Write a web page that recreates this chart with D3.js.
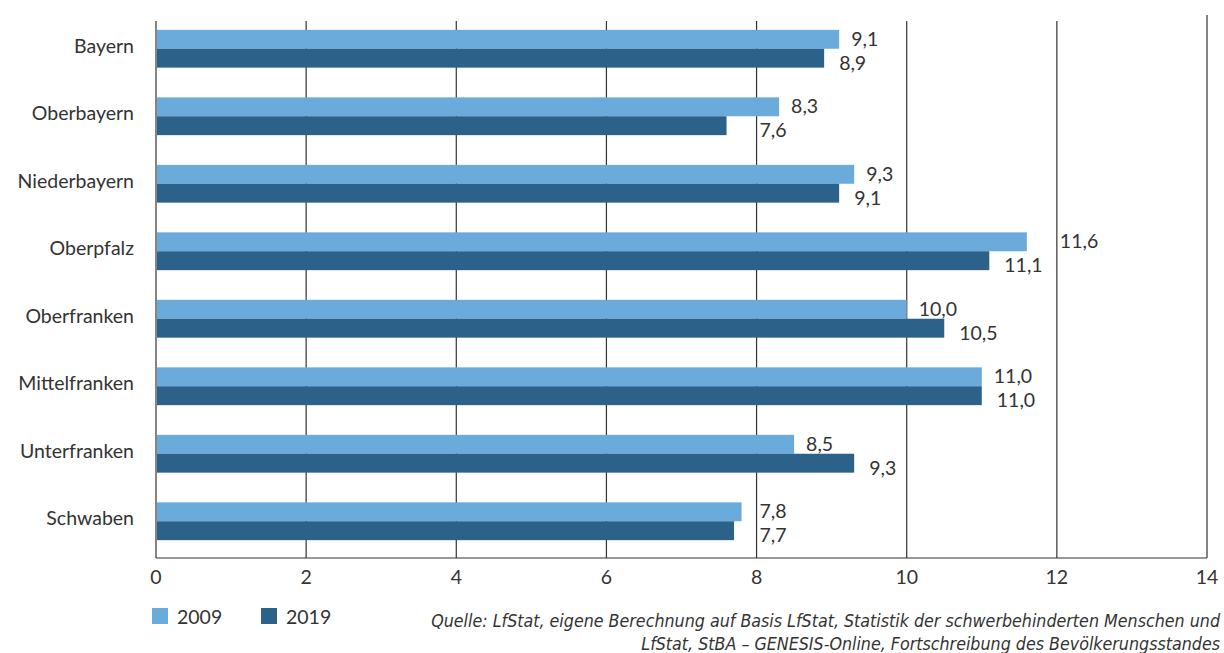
<!DOCTYPE html>
<html lang="de">
<head>
  <meta charset="UTF-8">
  <title>Regierungsbezirke 2009 / 2019</title>
  <script src="https://d3js.org/d3.v7.min.js"></script>
  <style>
    body {
      margin: 0;
      background: #fff;
      font-family: Lato, "Open Sans", sans-serif;
      color: #333;
    }
    #chart svg { display: block; }
  </style>
</head>
<body>
  <div id="chart"></div>

  <script>
    const regions = ["Bayern", "Oberbayern", "Niederbayern", "Oberpfalz",
                     "Oberfranken", "Mittelfranken", "Unterfranken", "Schwaben"];
    const years = ["2009", "2019"];
    const values2009 = [9.1, 8.3, 9.3, 11.6, 10.0, 11.0, 8.5, 7.8];
    const values2019 = [8.9, 7.6, 9.1, 11.1, 10.5, 11.0, 9.3, 7.7];
    const xTicks = [0, 2, 4, 6, 8, 10, 12, 14];
    const sourceLines = [
      "Quelle: LfStat, eigene Berechnung auf Basis LfStat, Statistik der schwerbehinderten Menschen und",
      "LfStat, StBA \u2013 GENESIS-Online, Fortschreibung des Bevölkerungsstandes"
    ];

    const width = 1224;
    const height = 653;
    const colors = {"2009": "#6aabdb", "2019": "#2c6189"};
    const ink = "#333";
    const fs = 19.5;

    const svg = d3.select("#chart")
      .append("svg")
      .attr("width", width)
      .attr("height", height);

    const x = d3.scaleLinear()
      .domain([0, 14])
      .range([156, 1207]);

    const y = d3.scaleBand()
      .domain(regions)
      .range([15, 555])
      .paddingInner(0.44)
      .paddingOuter(0.22);

    const yInner = d3.scaleBand()
      .domain(years)
      .range([0, y.bandwidth()]);

    const axisTop = 21;
    const axisBottom = 558;

    // vertical grid lines
    svg.append("g")
      .selectAll("line")
      .data(xTicks)
      .join("line")
      .attr("x1", d => x(d))
      .attr("x2", d => x(d))
      .attr("y1", d => d === 14 ? 15 : axisTop)
      .attr("y2", axisBottom)
      .attr("stroke", ink)
      .attr("stroke-width", 1.2);

    // bottom axis line
    svg.append("line")
      .attr("x1", x(0)).attr("x2", x(14))
      .attr("y1", axisBottom).attr("y2", axisBottom)
      .attr("stroke", ink)
      .attr("stroke-width", 1.2);

    // tick labels
    svg.append("g")
      .selectAll("text")
      .data(xTicks)
      .join("text")
      .attr("x", d => x(d))
      .attr("y", 584)
      .attr("text-anchor", "middle")
      .attr("font-size", fs)
      .attr("fill", ink)
      .text(d => d);

    // category labels
    svg.append("g")
      .selectAll("text")
      .data(regions)
      .join("text")
      .attr("x", 134)
      .attr("y", d => y(d) + y.bandwidth() / 2)
      .attr("dy", "0.2em")
      .attr("text-anchor", "end")
      .attr("font-size", fs)
      .attr("fill", ink)
      .text(d => d);

    const rows = regions.map((r, i) => ({
      region: r,
      items: [
        {year: "2009", value: values2009[i]},
        {year: "2019", value: values2019[i]}
      ]
    }));

    const fmt = v => d3.format(".1f")(v).replace(".", ",");

    const groups = svg.append("g")
      .selectAll("g")
      .data(rows)
      .join("g")
      .attr("transform", d => `translate(0,${y(d.region)})`);

    groups.selectAll("rect")
      .data(d => d.items)
      .join("rect")
      .attr("x", x(0) + 1)
      .attr("y", d => yInner(d.year))
      .attr("width", d => x(d.value) - x(0) - 1)
      .attr("height", yInner.bandwidth())
      .attr("fill", d => colors[d.year]);

    // value labels, pushed past a grid line if they would cross it
    function labelX(d) {
      const pad = d.year === "2009" ? 12 : 15;
      let lx = x(d.value) + pad;
      const w = d.value >= 10 ? 40 : 29;
      xTicks.forEach(t => {
        const gx = x(t);
        if (lx < gx + 3 && lx + w > gx - 2) lx = gx + 3;
      });
      return lx;
    }

    groups.selectAll("text")
      .data(d => d.items)
      .join("text")
      .attr("x", d => labelX(d))
      .attr("y", d => yInner(d.year) + yInner.bandwidth() + (d.year === "2009" ? -3 : 2))
      .attr("font-size", fs)
      .attr("fill", ink)
      .text(d => fmt(d.value));

    // legend
    const legend = svg.append("g")
      .selectAll("g")
      .data(years)
      .join("g")
      .attr("transform", (d, i) => `translate(${152 + i * 109},608)`);

    legend.append("rect")
      .attr("width", 16)
      .attr("height", 16)
      .attr("fill", d => colors[d]);

    legend.append("text")
      .attr("x", 25)
      .attr("y", 16)
      .attr("font-size", fs)
      .attr("fill", ink)
      .text(d => d);

    // source note
    svg.append("g")
      .selectAll("text")
      .data(sourceLines)
      .join("text")
      .attr("x", 1220)
      .attr("y", (d, i) => 627 + i * 23)
      .attr("text-anchor", "end")
      .attr("font-size", 17.7)
      .attr("font-style", "italic")
      .attr("font-stretch", "condensed")
      .attr("font-family", "'DejaVu Sans Condensed', 'Liberation Sans Narrow', 'Open Sans', sans-serif")
      .attr("fill", ink)
      .text(d => d);
  </script>
</body>
</html>
